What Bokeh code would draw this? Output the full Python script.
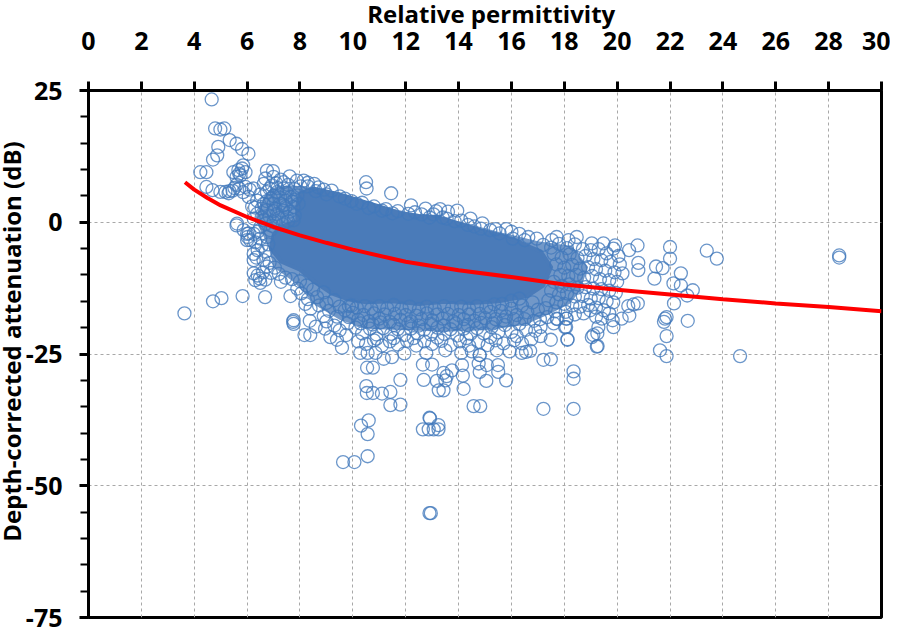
from bokeh.plotting import figure
from bokeh.models import FixedTicker, ColumnDataSource
from bokeh.embed import file_html
from bokeh.resources import INLINE

# where the original circles merge into solid colour, the merged area is drawn as one outline,
# and the speckled zone around it as a second, paler outline.
x_title = "Relative permittivity"
y_title = "Depth-corrected attenuation (dB)"
x_tick_labels = list(range(0, 31, 2))
y_tick_labels = [25, 0, -25, -50, -75]
y_minor = [20, 15, 10, 5, -5, -10, -15, -20, -30, -35, -40, -45, -55, -60, -65, -70]

fit_x = [3.65, 4, 4.5, 5, 6, 7, 8, 9, 10, 12, 14, 16, 18, 20, 22, 24, 26, 28, 30]
fit_y = [7.6, 6.2, 4.6, 3.2, 1.0, -0.9, -2.5, -3.9, -5.2, -7.5, -9.1, -10.4, -11.8, -12.8, -13.7, -14.6, -15.4, -16.1, -16.9]

merged_x = [8.0, 8.5, 9.2, 9.5, 10.2, 11, 11.7, 12.5, 13.2, 14, 14.8, 15.6, 16.2, 16.6, 17.1, 17.5, 17.2, 16.6, 15.5, 14.5, 13.5, 12.5, 11.5, 10.5, 9.8, 9.2, 8.6, 8, 7.3, 6.9, 7, 7.2, 7.9, 7.9]
merged_y = [5.5, 6.4, 5.6, 5.3, 4.2, 3.0, 1.8, 1.2, 1.0, -0.2, -1.5, -2.5, -3.5, -4.5, -5.5, -8.5, -12, -14, -15, -15.3, -15.1, -15.5, -15, -15.2, -14.6, -13.5, -11.5, -9, -7.5, -5, -2.5, -1, 0.2, 3]

speckled_x = [6.3, 6.5, 6.9, 7.6, 8.2, 10, 12, 14, 15.5, 17, 18.3, 18.9, 18.6, 18.2, 17.4, 16.5, 15, 13.5, 12, 10.5, 9.5, 8.6, 7.8, 7, 6.8]
speckled_y = [0.5, 3.5, 6.5, 7.0, 6.8, 4.5, 2.0, 0.2, -1.8, -3.6, -4.5, -8.5, -13, -15.5, -17.5, -19.5, -20.5, -20.8, -20.5, -20.2, -18.5, -15.8, -11.5, -8.5, -4.5]

upper_left = [(4.66,23.3),(4.79,17.8),(4.99,17.6),(5.14,17.8),(5.34,15.6),(5.6,14.9),(5.81,13.9),(6.05,13.0),(4.91,14.3),(4.87,12.7),(4.71,11.9),(4.23,9.5),(4.46,9.5),(4.46,6.7),(4.69,6.1),(4.99,5.75),(5.18,5.75),(5.33,5.9),
(5.48,9.5),(5.67,9.9),(5.81,10.2),(5.94,9.5),(5.75,8.9),(5.6,8.6),(5.85,10.8),(5.7,9.2),(5.52,6.5),(5.3,5.5),(5.7,6.4),(5.94,6.7),(6.06,4.8),(5.85,5.7),(6.25,6.4),(6.1,6.2),(5.6,7.1),(5.45,6.0),
(6.75,9.8),(6.98,9.7),(7.0,8.6),(6.69,8.3),(6.63,7.3),(6.94,7),(7.61,8.7),(7.38,7.6),(7.89,7.9),(8.14,7.9),(8.54,7.3),(7.38,6.4),(7.13,5.7),(6.75,5.7),(6.38,4.1),(6.19,3),(6.63,3.5),(7,3.5),(7.38,3.2),(7.76,2.9),(7.64,4.8),(6.75,2.3),(7.13,1.6),(6.38,1.6),(6.25,0.7),(6.63,0.4),(7,0),(7.51,1),(7.76,0.4),(7.36,-0.4),(6.5,-0.9),(6.88,-1.5),
(6,-2.2),(6.25,-2.2),(6.5,-3.1),(6.75,-2.8),(6.31,-3.8),(6,-3.4),(7.27,8.1),(7.55,7.1),(7.8,6.3),(8.02,6.8),(8.3,7.5),(8.7,6.6),(7.1,7.4),(6.85,6.4),(6.5,5.3),(7.25,4.7),(7.5,5.6),(7.9,5.1),(7.05,2.6),(7.35,2.2),(7.62,2),(6.9,4.5),(6.55,2.6),(7.2,0.8),(6.85,1.1),(7.7,3.9),(6.4,-1.8),(6.7,-0.3),
(7.0,5.0),(7.45,4.1),(7.15,6.5),(6.75,4.0),(7.8,1.3),(7.55,0.2),(7.95,3.5),(6.95,-0.7),(6.55,0.9),(6.3,2.8),(7.25,3.5),(7.0,2.1),(7.45,2.9),(7.8,4.3)]

left_edge = [(5.6,-0.6),(5.62,-0.25),(5.87,-1.5),(6.06,-2.1),(6.12,-3.4),(6.02,-2.8),(6.35,-6.7),(6.25,-6),(6.4,-5.3),(6.25,-7.2),(6.48,-10.7),(6.31,-11),(6.5,-11.5),(6.4,-10.1),(6.25,-9.7),(6.69,-10.9),(7.28,-11.3),(6.6,-9.5),(6.75,-8.4),(6.85,-7.7),(6.55,-4.5),(6.7,-5.6),(6.62,-7.2),(6.8,-4.2),(6.9,-9.6),(7.05,-8.6),
(7.2,-9.8),(7.45,-10.5),(7.7,-10.8),(8.0,-11.2),(7.9,-12.6),(8.25,-12),(8.05,-13.5),(8.5,-12.8),(8.3,-14.6),(8.65,-14.2),(8.9,-13.3),(8.4,-16.4),(8.72,-15.8),(9,-15.3),(9.3,-14.8),(9.1,-16.8),(9.5,-16),(8.2,-15.5),(8.9,-17.8),(9.4,-17.9),(9.7,-16.7),(9.85,-15.9),
(3.63,-17.3),(4.71,-15),(5.03,-14.4),(5.83,-14),(6.68,-14.2),(7.64,-14),(7.76,-18.6),(7.76,-19.3),(7.74,-18.9),(8.37,-18.7),(8.17,-21.4),(8.39,-21.4),(9.15,-21.8),(9.59,-23.8),(8.6,-19.8),(8.95,-20.2),(9.3,-19.6),(9.0,-18.8),(9.5,-20.5),(9.8,-19.2),(9.75,-21.4),(9.4,-22.3)]

lower_band = [(10.0,-17.2),(10.2,-18.5),(10.4,-17.6),(10.6,-18.8),(10.8,-17.3),(11,-18.3),(11.2,-17.5),(11.4,-18.9),(11.6,-17.4),(11.8,-18.5),(12,-17.6),(12.2,-18.8),(12.4,-17.7),(12.6,-18.4),(12.8,-17.3),(13,-18.6),(13.2,-17.5),(13.4,-18.3),(13.6,-17.4),(13.8,-18.8),(14,-17.6),(14.2,-18.4),(14.4,-17.5),(14.6,-18.7),(14.8,-17.4),(15,-18.2),(15.2,-17),(15.4,-18.4),(15.6,-16.8),(15.8,-17.9),(16,-16.4),(16.2,-17.6),(16.4,-15.8),(16.6,-17.1),(16.8,-15.2),(17,-16.6),
(10.1,-20),(10.35,-21.1),(10.65,-20.2),(10.9,-21.3),(11.15,-20.1),(11.45,-21.2),(11.7,-20.3),(11.95,-21.4),(12.2,-20.2),(12.45,-21.1),(12.7,-20.4),(12.95,-21.3),(13.2,-20),(13.45,-21.2),(13.7,-20.3),(13.95,-21.5),(14.2,-20.2),(14.45,-21.2),(14.7,-20.1),(14.95,-21.1),(15.25,-19.9),(15.5,-20.9),(15.75,-19.5),(16,-20.8),(16.3,-19.3),(16.55,-20.4),(16.85,-18.7),(17.1,-19.9),(17.35,-18),(17.6,-19.2),
(10.2,-22.6),(10.5,-23.1),(10.8,-22.4),(11.1,-23.4),(11.4,-22.6),(11.7,-23.2),(12.05,-22.5),(12.4,-23.4),(12.7,-22.6),(13,-23.1),(13.35,-22.5),(13.7,-23.3),(14.05,-22.6),(14.4,-23.4),(14.75,-22.7),(15.1,-23.3),(15.4,-22.4),(15.7,-23),(16.1,-22.4),(16.4,-23),(16.75,-22.2),(17.1,-21.6),(10.28,-24.8),(10.56,-24.8),(10.86,-24.8),(11.48,-25.6),(11.17,-25.9),(11.95,-24.9),(12.78,-24.8),(13.5,-24.3),(14.1,-24.8),(14.5,-24.5),(14.8,-25.2),(14.76,-26.8),(15.45,-24.3),(15.93,-24.5),(16.39,-24.8),(16.71,-24.4),(16.55,-24.6)]

lower_extra = [(9.95,-15.8),(10.15,-16.2),(10.45,-15.9),(10.7,-16.4),(11,-15.9),(11.3,-16.3),(11.55,-15.7),(11.85,-16.4),(12.15,-16),(12.5,-16.5),(12.8,-16),(13.1,-16.4),(13.45,-15.9),(13.75,-16.3),(14.1,-16),(14.4,-16.4),(14.7,-15.9),(15.05,-16.1),(15.35,-15.6),(15.65,-15.5),(16,-14.9),(16.3,-14.5),
(10.3,-19.2),(10.75,-19.4),(11.05,-19),(11.55,-19.5),(12.1,-19.2),(12.5,-19.6),(12.95,-19.3),(13.45,-19.6),(13.9,-19.2),(14.35,-19.5),(14.85,-19.1),(15.3,-19.2),(15.7,-18.6),(16.1,-18.4),(16.5,-18.4),(9.85,-18),(10.9,-22.1),(11.55,-22),(12.3,-22),(13.2,-21.9),(14.3,-22),(15.2,-21.8),(16.2,-21.6),(16.9,-20.6)]

low_outliers = [(12.65,-27),(13,-27),(10.54,-27.6),(10.76,-27.6),(11.8,-29.9),(12.68,-29.9),(13.18,-30.1),(13.5,-30),(13.43,-28.6),(13.75,-28.1),(14.13,-27.1),(14.16,-29.1),(14.19,-31.6),(13.55,-29.2),(13.25,-31.9),(13.43,-31.9),(15.05,-30.1),(15.8,-30),(15.5,-28.4),(15.49,-27.1),(15.07,-27.1),(14.8,-28.4),(14.8,-25.2),
(17.21,-26.1),(17.49,-26),(17.49,-22.3),(18.12,-22.3),(17.74,-18.4),(18.07,-18.3),(18.07,-19.9),(18.35,-28.3),(18.35,-29.7),(17.21,-35.4),(18.35,-35.4),(14.57,-34.9),(14.82,-34.9),(10.51,-31.1),(10.53,-32.4),(10.76,-32.4),(11.1,-32.5),(11.42,-32.2),(11.42,-34.7),(11.8,-34.6),(10.6,-37.6),(10.31,-38.6),(10.56,-40.2),(10.56,-44.4),(9.63,-45.5),(10.06,-45.5),(12.9,-37.1),(12.92,-37.2),(12.65,-39.3),(12.87,-39.3),(13.06,-39.3),(13.24,-39.3),(13.24,-38.5),(12.9,-55.2),(12.95,-55.2),(19.1,-21.4),(19.23,-23.6),(18.98,-16.7),(18.73,-17.3)]

right_side = [(20.77,-4.4),(20.45,-5.3),(22,-4.7),(22,-6.9),(23.39,-5.4),(23.77,-6.9),(28.4,-6.3),(28.4,-6.7),(24.65,-25.4),(20.8,-7.7),(20.8,-9.1),(21.47,-8.4),(21.72,-8.7),(21.41,-10.7),(22.41,-9.7),(22.13,-11.6),(22.41,-12),(22.86,-12.9),(22.65,-13.9),(22.15,-15.4),(20.78,-15.4),(20.42,-15.9),(20.62,-15.6),(20.46,-17.7),(20.17,-18.3),(21.81,-18.3),(21.87,-18),(21.77,-18.9),(22.67,-18.7),(21.87,-21.6),(21.62,-24.3),(21.87,-25.4),
(19.26,-23.5),(19.04,-21.8),(19.25,-21.1),(18.12,-22.2),(17.71,-18.3),(18.09,-18.3),(18.03,-19.9),(17.08,-18.4),(19.42,-18.3),(19.83,-18.6),(19.86,-19.9),(19.29,-19.9),(19.92,-4.4),(19.86,-5),(19.48,-4),(19.04,-4),(18.47,-2.8),(18.16,-3.4),(17.71,-2.8),(17.53,-3.4),(16.96,-3.1),(16.64,-2.8),
(17.2,-4.3),(17.5,-4.8),(17.8,-4.1),(18.1,-4.9),(18.4,-4.2),(18.7,-5.1),(19,-5.3),(19.3,-5.1),(19.6,-5.9),(17.6,-6),(17.9,-6.7),(18.2,-6.1),(18.5,-6.8),(18.8,-6.4),(19.1,-7),(19.4,-7.2),(19.75,-7.5),(20.05,-6.4),(20.1,-8),(17.7,-8),(18,-8.6),(18.3,-8.1),(18.6,-8.8),(18.9,-8.5),(19.2,-8.9),(19.55,-9.2),(19.9,-9.5),(20.2,-9.7),(17.85,-10),(18.15,-10.2),(18.45,-10),(18.75,-10.5),(19.05,-10.2),(19.35,-10.8),(19.7,-11),(20,-11.3),
(17.6,-11.3),(17.9,-12.1),(18.2,-11.8),(18.5,-12.4),(18.8,-12.3),(19.1,-12.6),(19.4,-12.7),(19.7,-13),(19.95,-13.4),(17.5,-13),(17.8,-13.7),(18.1,-13.5),(18.4,-14.1),(18.7,-14),(19,-14.5),(19.3,-14.4),(19.6,-15),(19.85,-15.2),(17.4,-14.8),(17.7,-15.2),(18,-15.5),(18.3,-15.8),(18.6,-16),(18.9,-15.7),(19.2,-16.2),(19.5,-16.7),(17.3,-16.3),(17.65,-16.9),(18.05,-17),(18.4,-17.5),(19.7,-17.3),(19.2,-17.9)]

top_edge = [(10.5,7.6),(10.52,6.4),(11.45,5.5),(12.2,3.2),(12.75,2.6),(13.15,2.1),(13.3,2.5),(13.6,2),(13.95,2.2),(14.45,0.7),(14.9,-0.2),(15.4,-1.3),(15.8,-1.3),(16,-1.8),(16.3,-2.2),(9.5,4.9),(9.95,4),(10.35,3.7),(10.8,3),(11.25,2.5),(11.7,2.1),(12.1,1.6),(12.6,1.5),(13.05,1.5),(13.55,0.7),(14.1,0.3),(14.6,-0.8),(15.2,-1.5),(8.9,6.2),(9.2,6),(8.3,6.8),(11.1,2.2),(12.35,1.9),
(8.6,5.9),(9.0,5.3),(9.7,4.5),(10.15,3.5),(10.6,2.7),(11.5,1.7),(12.9,0.9),(13.4,0.9),(13.85,0.2),(14.35,-0.5),(14.85,-1.2),(15.55,-2.1),(16.05,-3.1),(16.5,-3.4)]

groups = [upper_left, left_edge, lower_band, lower_extra, low_outliers, right_side, top_edge]
pts = [pair for g in groups for pair in g]
src = ColumnDataSource(dict(x=[a for a, _ in pts], y=[b for _, b in pts]))

# The negative margin slides the canvas so the axis titles sit in the page's outer strip.
p = figure(width=899, height=637, margin=(-8, 0, 0, -9), x_range=(0, 30), y_range=(-75, 25), x_axis_location="above",
           output_backend="svg", toolbar_location=None, min_border_left=97, min_border_right=9,
           min_border_top=98, min_border_bottom=12, background_fill_color="white", border_fill_color="white")

FONT = "Open Sans"
NBSP = "\u00a0"
p.xaxis.ticker = FixedTicker(ticks=x_tick_labels)
p.yaxis.ticker = FixedTicker(ticks=y_tick_labels, minor_ticks=y_minor)
p.yaxis.major_label_overrides = {v: str(v) for v in y_tick_labels}
# Leading no-break spaces only nudge the centred titles to where the reference has them.
p.xaxis.axis_label = NBSP * 2 + x_title
p.yaxis.axis_label = NBSP * 4 + y_title
for ax in (p.xaxis[0], p.yaxis[0]):
    ax.axis_line_color = "black"
    ax.axis_line_width = 3
    ax.major_tick_line_color = "black"
    ax.major_tick_line_width = 3
    ax.major_tick_out = 9
    ax.major_tick_in = 0
    ax.minor_tick_line_color = "black"
    ax.minor_tick_line_width = 2
    ax.minor_tick_out = 8
    ax.minor_tick_in = 0
    ax.major_label_text_font = FONT
    ax.major_label_text_font_style = "bold"
    ax.major_label_text_font_size = "25px"
    ax.major_label_text_color = "black"
    ax.axis_label_text_font = FONT
    ax.axis_label_text_font_style = "bold"
    ax.axis_label_text_font_size = "24px"
    ax.axis_label_text_color = "black"
    ax.axis_label_text_line_height = 1.0
p.xaxis.major_label_standoff = 32
p.yaxis.major_label_standoff = 17
p.xaxis.axis_label_standoff = -1
p.yaxis.axis_label_standoff = -5
p.yaxis.major_label_orientation = "horizontal"

p.outline_line_color = "black"
p.outline_line_width = 3
p.grid.grid_line_color = "#a8a8a8"
p.grid.grid_line_dash = "3 3"
p.grid.grid_line_width = 1
p.xgrid.ticker = FixedTicker(ticks=x_tick_labels)
p.ygrid.ticker = FixedTicker(ticks=y_tick_labels)

p.patch(speckled_x, speckled_y, fill_color="#4a7bb9", fill_alpha=0.78, line_color=None)
p.patch(merged_x, merged_y, fill_color="#4a7bb9", line_color="#4a7bb9", line_width=4, line_join="round")
p.scatter("x", "y", source=src, marker="circle", size=13, fill_color=None,
          line_color="#4179bb", line_alpha=0.78, line_width=1.3)
p.line(fit_x, fit_y, line_color="#ff0000", line_width=4)

open("out.html", "w").write(file_html(p, INLINE))
